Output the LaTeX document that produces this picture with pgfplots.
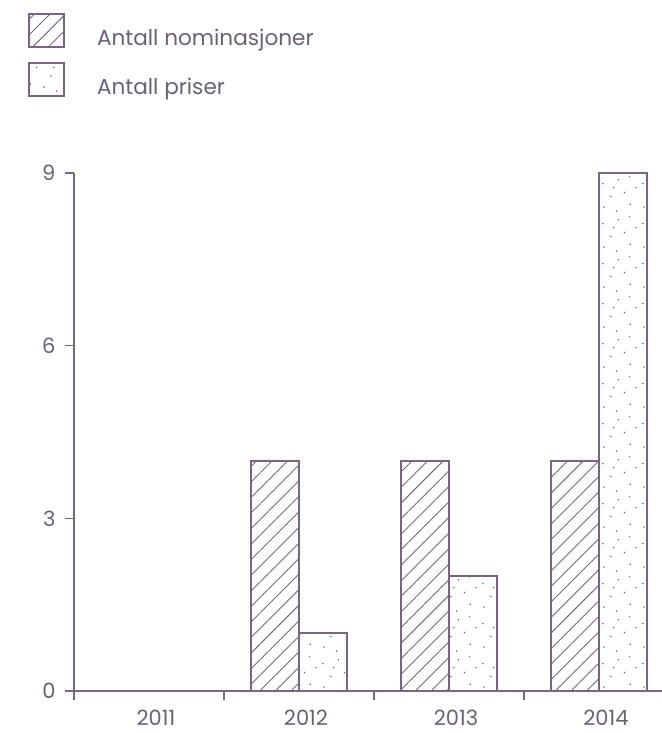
\documentclass[border=0pt]{standalone}
\usepackage{pgfplots}
\pgfplotsset{compat=1.18}
\usepackage{fontspec}
\setmainfont{Poppins}
\usetikzlibrary{patterns.meta}
\definecolor{ln}{RGB}{118,102,132}
\definecolor{tx}{RGB}{108,97,116}
\pgfdeclarepattern{
  name=sparsedots,
  type=uncolored,
  bottom left={\pgfpoint{0bp}{0bp}},
  top right={\pgfpoint{40bp}{40bp}},
  tile size={\pgfpoint{40bp}{40bp}},
  code={
    \pgfpathcircle{\pgfpoint{4bp}{6bp}}{0.9bp}
    \pgfpathcircle{\pgfpoint{17bp}{2bp}}{0.9bp}
    \pgfpathcircle{\pgfpoint{31bp}{9bp}}{0.9bp}
    \pgfpathcircle{\pgfpoint{11bp}{17bp}}{0.9bp}
    \pgfpathcircle{\pgfpoint{25bp}{21bp}}{0.9bp}
    \pgfpathcircle{\pgfpoint{37bp}{26bp}}{0.9bp}
    \pgfpathcircle{\pgfpoint{3bp}{30bp}}{0.9bp}
    \pgfpathcircle{\pgfpoint{19bp}{34bp}}{0.9bp}
    \pgfpathcircle{\pgfpoint{30bp}{37bp}}{0.9bp}
    \pgfpathcircle{\pgfpoint{14bp}{26bp}}{0.9bp}
    \pgfusepath{fill}
  }
}
\begin{document}
\begin{tikzpicture}
\path[use as bounding box] (0,0) rectangle (662bp,733bp);
\begin{axis}[
  at={(74bp,42bp)}, anchor=south west,
  scale only axis, width=588bp, height=518bp,
  xmin=-0.5, xmax=3.42, ymin=0, ymax=9,
  axis x line*=bottom, axis y line*=left,
  axis line style={ln, line width=1.5bp},
  every tick/.style={ln, line width=1.5bp},
  tick align=outside,
  major tick length=9bp, minor tick length=9bp,
  ytick={0,3,6,9},
  xtick={0,1,2,3}, xticklabels={2011,2012,2013,2014},
  major x tick style={draw=none},
  minor xtick={-0.5,0.5,1.5,2.5},
  tick label style={font=\fontsize{21bp}{24bp}\selectfont, text=tx},
  /pgf/number format/assume math mode=true,
  xticklabel style={inner ysep=0pt, xshift=7bp, yshift=-10bp},
  yticklabel style={xshift=-6bp},
  legend style={at={(axis description cs:-0.0782,1.3089)}, anchor=north west,
    draw=none, fill=none, inner sep=0pt, outer sep=0pt,
    row sep=14bp, column sep=32bp,
    font=\fontsize{21.6bp}{24bp}\selectfont, text=tx,
    nodes={inner sep=0pt}},
  legend cell align=left,
]
\addplot[ybar, bar width=48bp, bar shift=-24bp, draw=ln, line width=2bp,
  pattern={Lines[angle=45,distance=11bp,line width=0.9bp]}, pattern color=ln,
  legend image code/.code={\draw[draw=ln, line width=2bp, pattern={Lines[angle=45,distance=11bp,line width=0.9bp]}, pattern color=ln] (0bp,-9bp) rectangle (35bp,24bp);}]
  coordinates {(1,4) (2,4) (3,4)};
\addlegendentry{Antall nominasjoner}
\addplot[ybar, bar width=48bp, bar shift=24bp, draw=ln, line width=2bp,
  pattern=sparsedots, pattern color=ln,
  legend image code/.code={\draw[draw=ln, line width=2bp, pattern=sparsedots, pattern color=ln] (0bp,-9bp) rectangle (35bp,24bp);}]
  coordinates {(1,1) (2,2) (3,9)};
\addlegendentry{Antall priser}
\end{axis}
\end{tikzpicture}
\end{document}
